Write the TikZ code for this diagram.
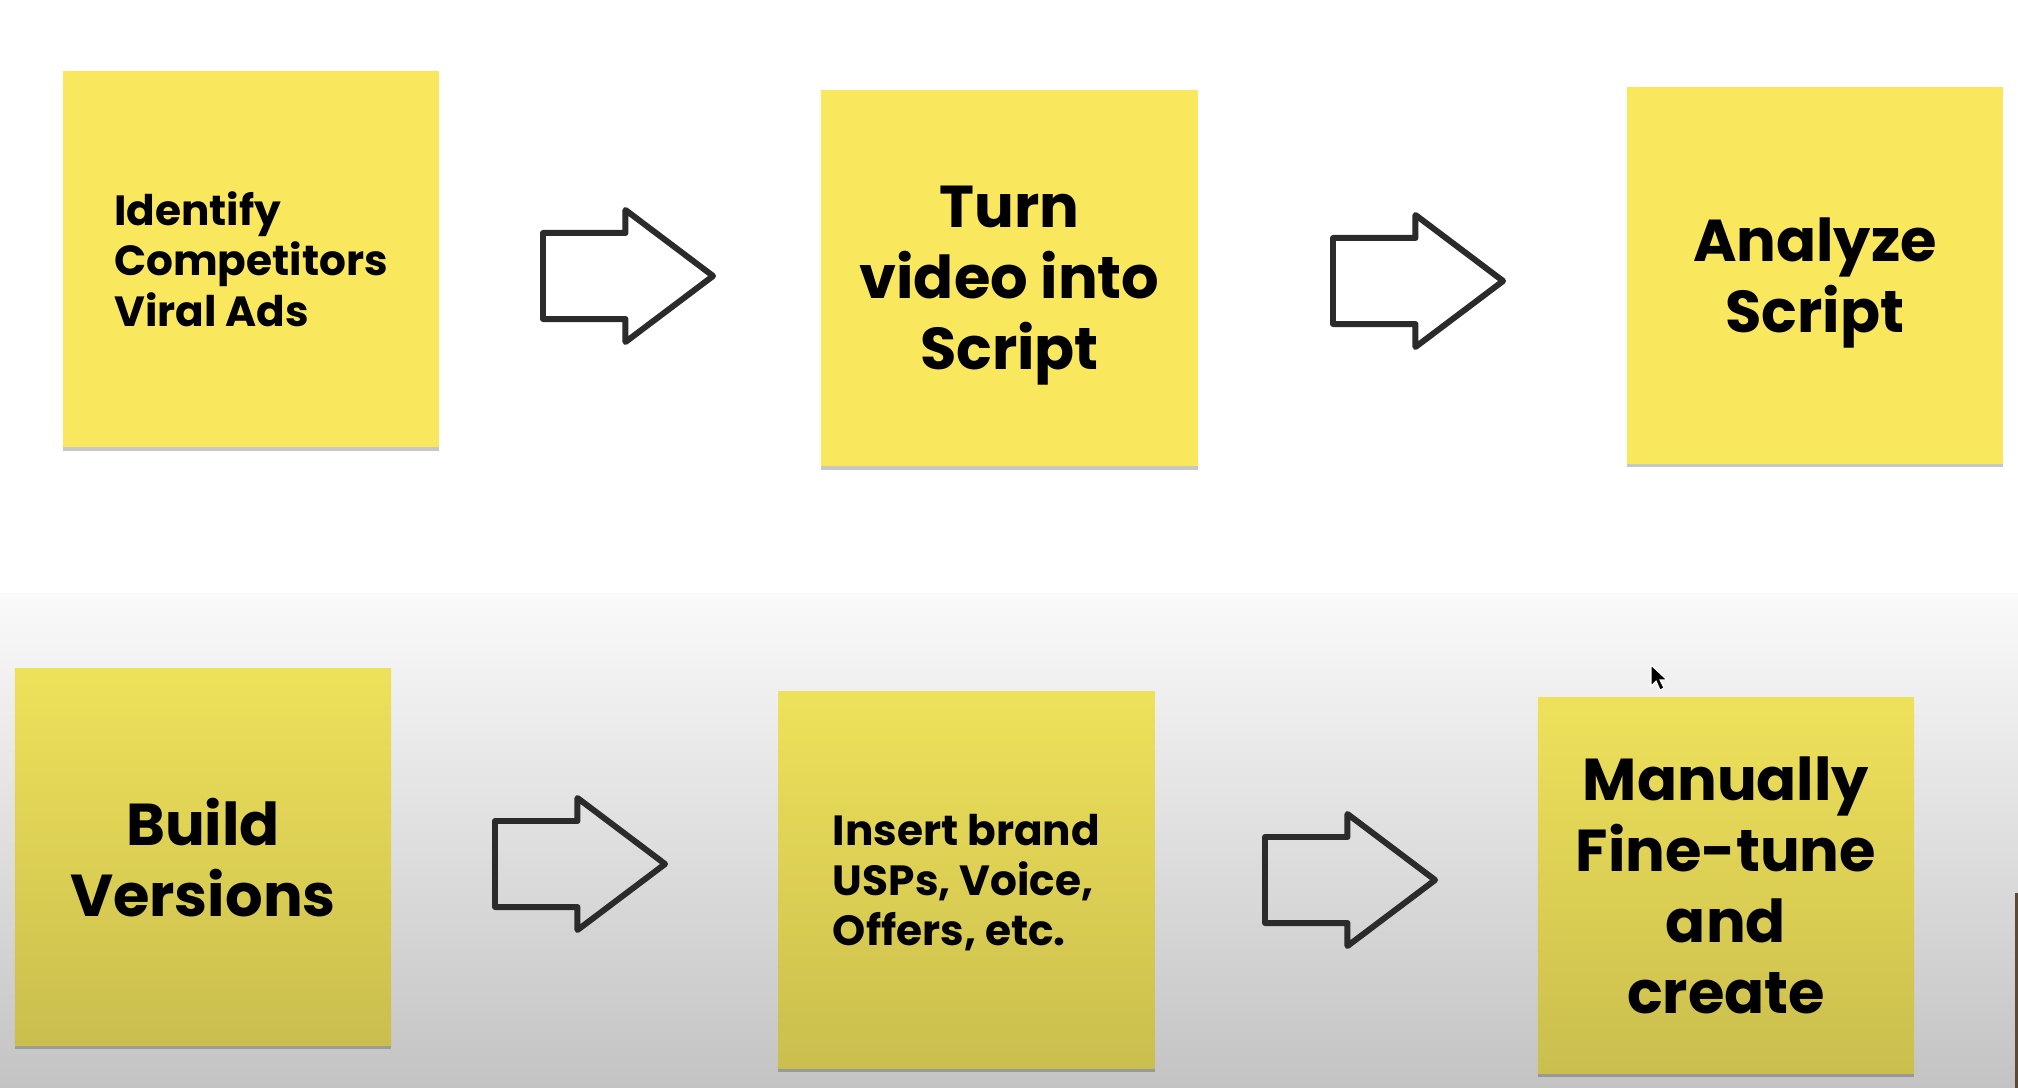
\documentclass[tikz,border=0pt]{standalone}
\usepackage{fontspec}
\setmainfont{Poppins}
\usetikzlibrary{shapes.arrows,shadows}
\definecolor{notey}{HTML}{F9E85E}
\definecolor{noteytop}{HTML}{EEE15A}
\definecolor{noteybot}{HTML}{CABE4E}
\definecolor{bgbot}{HTML}{C3C3C3}
\definecolor{arrowline}{HTML}{2B2B2B}
\definecolor{edgeline}{HTML}{5B4A3C}
\begin{document}
\begin{tikzpicture}[x=.01cm,y=-.01cm,
  note/.style={minimum width=3.76cm,minimum height=3.76cm,inner sep=0pt,text depth=0pt,
    drop shadow={shadow xshift=0pt,shadow yshift=-1.1pt,fill=black,opacity=.22}},
  bigtext/.style={align=center,font=\fontsize{16.8}{20.2}\selectfont\bfseries},
  smalltext/.style={align=left,font=\fontsize{12}{14.3}\selectfont\bfseries},
  toprow/.style={fill=notey},
  botrow/.style={top color=noteytop,bottom color=noteybot},
  blockarrow/.style={single arrow,draw=arrowline,line width=1.7pt,line join=round,
    minimum width=1.26cm,minimum height=1.70cm,single arrow head extend=.23cm,
    single arrow tip angle=74,inner xsep=0pt,inner ysep=.4cm,anchor=tail}]
\useasboundingbox (0,0) rectangle (2018,1088);
% background: white, then greying towards the bottom
\fill[white] (0,0) rectangle (2018,593);
\shade[top color=black!2,bottom color=bgbot] (0,593) rectangle (2018,1088);
\draw[edgeline,line width=.85pt] (2016,893) -- (2016,1088);
%
% first row
\node[note,toprow,smalltext] (identify) at (251,259) {Identify\\Competitors\\Viral Ads};
\node[note,toprow,bigtext] (turn) at (1009.5,278) {Turn\\video into\\Script};
\node[note,toprow,bigtext] (analyze) at (1815,275.5) {Analyze\\Script};
\node[blockarrow] (arr1) at (540,276) {};
\node[blockarrow] (arr2) at (1330,281) {};
%
% second row
\node[note,botrow,bigtext] (build) at (203,857) {Build\\Versions};
\node[note,botrow,smalltext] (insert) at (966.5,880) {Insert brand\\USPs, Voice,\\Offers, etc.};
\node[note,botrow,bigtext] (manual) at (1726,885.5) {Manually\\Fine-tune\\and\\create};
\node[blockarrow] (arr3) at (492,864) {};
\node[blockarrow] (arr4) at (1262,880) {};
%
% mouse pointer
\fill[black,draw=white,line width=.3pt] (1651,665) -- (1651,686) -- (1656,681) -- (1660,690)
  -- (1664,688) -- (1660,680) -- (1667,680) -- cycle;
\end{tikzpicture}
\end{document}
